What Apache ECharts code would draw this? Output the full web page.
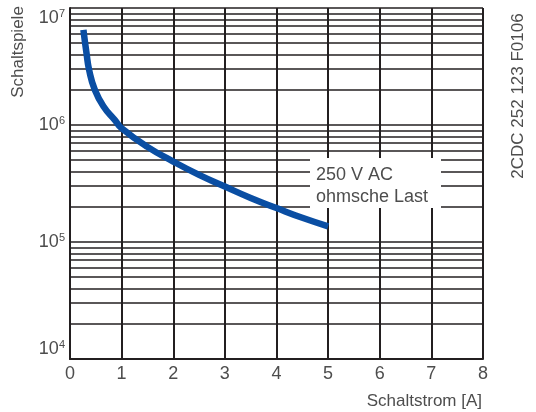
<!DOCTYPE html>
<html><head><meta charset="utf-8">
<script src="https://cdn.jsdelivr.net/npm/echarts@6/dist/echarts.min.js"></script>
<style>html,body{margin:0;padding:0;background:#fff}#c{width:536px;height:412px}</style>
</head><body><div id="c"></div>
<script>
// Data
var current = [0.26, 0.32, 0.37, 0.48, 0.65, 0.87, 1, 1.5, 2, 2.5, 3, 3.5, 4, 4.5, 5];
var cycles = [6.5e6, 4.1e6, 2.96e6, 2.0e6, 1.44e6, 1.1e6, 9.4e5, 6.5e5, 4.87e5, 3.75e5, 2.98e5, 2.38e5, 1.95e5, 1.61e5, 1.36e5];
var xTicks = [0, 1, 2, 3, 4, 5, 6, 7, 8];
var decades = [1e4, 1e5, 1e6];
var minorFactors = [2, 3, 4, 5, 6, 7, 8, 9];
var seriesLabel = ['250 V AC', 'ohmsche Last'];
var xTitle = 'Schaltstrom [A]';
var yTitle = 'Schaltspiele';
var docCode = '2CDC 252 123 F0106';

var FONT = 'Liberation Sans, Arial, sans-serif';
var TXT = '#4d4d4d';
var GRID = '#231f20';

var minorLines = [];
decades.forEach(function (d) {
  minorFactors.forEach(function (f) { minorLines.push({ yAxis: d * f }); });
});

var chart = echarts.init(document.getElementById('c'));
chart.setOption({
  animation: false,
  backgroundColor: '#fff',
  grid: { left: 70, right: 53, top: 8, bottom: 53 },
  xAxis: {
    type: 'value', min: xTicks[0], max: xTicks[xTicks.length - 1], interval: 1,
    axisLine: { show: true, lineStyle: { color: GRID, width: 2 } },
    axisTick: { show: false },
    splitLine: { show: true, lineStyle: { color: GRID, width: 2 } },
    axisLabel: { color: TXT, fontFamily: FONT, fontSize: 18, margin: 6 }
  },
  yAxis: {
    type: 'log', logBase: 10, min: 1e4, max: 1e7,
    axisLine: { show: true, lineStyle: { color: GRID, width: 2 } },
    axisTick: { show: false },
    splitLine: { show: true, lineStyle: { color: GRID, width: 1.5 } },
    minorSplitLine: { show: false },
    axisLabel: {
      margin: 5,
      verticalAlignMinLabel: 'bottom',
      verticalAlignMaxLabel: 'top',
      formatter: function (v) { return '{b|10}{s|' + Math.round(Math.log10(v)) + '}'; },
      rich: {
        b: { color: TXT, fontFamily: FONT, fontSize: 18 },
        s: { color: TXT, fontFamily: FONT, fontSize: 11, verticalAlign: 'top', padding: [0, 0, 9, 0] }
      }
    }
  },
  series: [
    {
      type: 'line', data: [], z: 1, silent: true,
      markLine: {
        silent: true, symbol: ['none', 'none'], animation: false,
        label: { show: false },
        lineStyle: { color: GRID, width: 1.5, type: 'solid' },
        emphasis: { disabled: true },
        data: minorLines
      }
    },
    {
      type: 'line', z: 5, smooth: 0.5, showSymbol: false, symbol: 'none',
      lineStyle: { color: '#0a4ea3', width: 6.5, cap: 'butt' },
      data: current.map(function (x, i) { return [x, cycles[i]]; })
    }
  ],
  graphic: [
    { type: 'rect', z: 100, shape: { x: 310, y: 158, width: 131, height: 50 }, style: { fill: '#fff' } },
    { type: 'text', z: 101, x: 316, y: 175, style: { text: seriesLabel[0], font: '18px ' + FONT, fill: TXT, textVerticalAlign: 'middle' } },
    { type: 'text', z: 101, x: 316, y: 197, style: { text: seriesLabel[1], font: '18px ' + FONT, fill: TXT, textVerticalAlign: 'middle' } },
    { type: 'text', z: 101, x: 482, y: 401, style: { text: xTitle, font: '17px ' + FONT, fill: TXT, textAlign: 'right', textVerticalAlign: 'middle' } },
    { type: 'text', z: 101, x: 18, y: 52, rotation: Math.PI / 2, style: { text: yTitle, font: '17px ' + FONT, fill: TXT, textAlign: 'center', textVerticalAlign: 'middle' } },
    { type: 'text', z: 101, x: 518, y: 96, rotation: Math.PI / 2, style: { text: docCode, font: '17px ' + FONT, fill: TXT, textAlign: 'center', textVerticalAlign: 'middle' } }
  ]
});
</script>
</body></html>
